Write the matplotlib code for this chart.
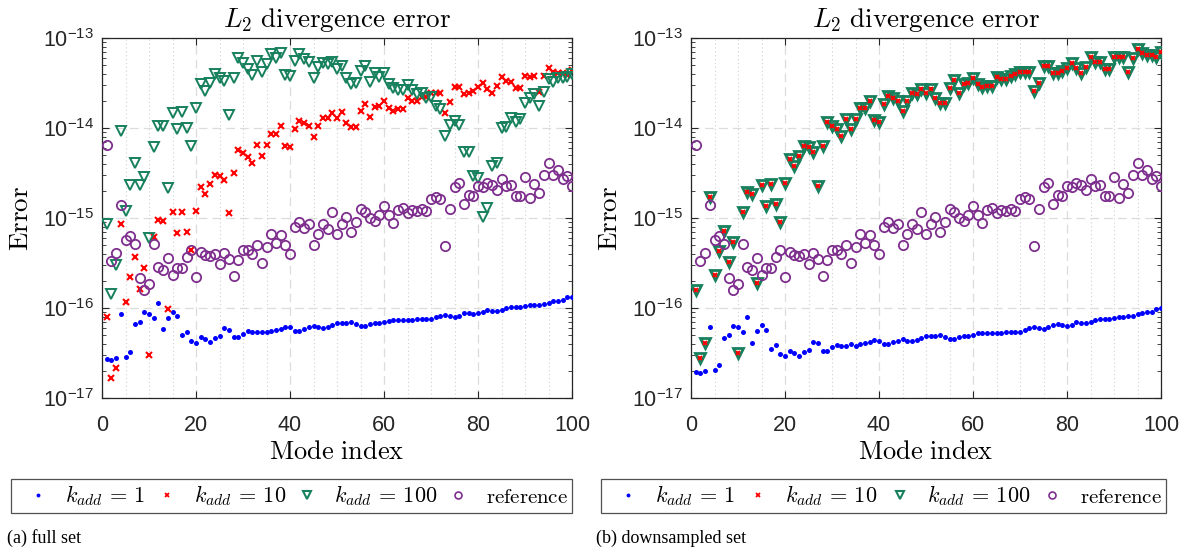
import numpy as np
import matplotlib
matplotlib.use('Agg')
import matplotlib.pyplot as plt
from matplotlib.lines import Line2D
from matplotlib.ticker import FuncFormatter, FixedLocator, MultipleLocator, NullFormatter

plt.rcParams['font.family'] = ['Liberation Sans', 'DejaVu Sans']
plt.rcParams['mathtext.fontset'] = 'cm'

# ---------------- data ----------------
modes = np.arange(1, 101)
x_ticks = [0, 20, 40, 60, 80, 100]
y_ticks = [1e-17, 1e-16, 1e-15, 1e-14, 1e-13]

blue_full = [2.71e-17, 2.64e-17, 2.81e-17, 8.57e-17, 2.88e-17, 3.27e-17, 6.64e-17, 6.98e-17, 8.95e-17, 8.65e-17,
             7.67e-17, 1.13e-16, 5.85e-17, 7.82e-17, 9.1e-17, 8.15e-17, 5.0e-17, 5.46e-17, 4.30e-17, 4.12e-17,
             4.72e-17, 4.49e-17, 4.16e-17, 4.60e-17, 4.84e-17, 6.0e-17, 5.7e-17, 4.72e-17, 4.72e-17, 5.14e-17,
             5.51e-17, 5.37e-17, 5.37e-17, 5.46e-17, 5.4e-17, 5.6e-17, 5.74e-17, 5.89e-17, 6.21e-17, 6.1e-17,
             5.6e-17, 5.6e-17, 5.79e-17, 6.1e-17, 6.37e-17, 6.1e-17, 6.04e-17, 6.21e-17, 6.53e-17, 6.76e-17,
             6.76e-17, 6.81e-17, 6.98e-17, 6.64e-17, 6.31e-17, 6.37e-17, 6.64e-17, 6.76e-17, 6.76e-17, 6.98e-17,
             7.23e-17, 7.36e-17, 7.41e-17, 7.41e-17, 7.29e-17, 7.29e-17, 7.48e-17, 7.6e-17, 7.55e-17, 7.6e-17,
             7.87e-17, 8.22e-17, 8.36e-17, 8.15e-17, 7.87e-17, 8.15e-17, 8.73e-17, 8.79e-17, 8.65e-17, 8.73e-17,
             9.04e-17, 9.42e-17, 9.27e-17, 9.18e-17, 9.51e-17, 1.0e-16, 1.016e-16, 1.016e-16, 1.026e-16, 1.05e-16,
             1.08e-16, 1.09e-16, 1.08e-16, 1.12e-16, 1.15e-16, 1.2e-16, 1.2e-16, 1.23e-16, 1.32e-16, 1.34e-16]

red_full = [8.02e-17, 1.66e-17, 2.14e-17, 8.51e-16, 1.17e-16, 2.19e-16, 3.66e-16, 1.63e-16, 2.76e-16, 2.98e-17,
            6.1e-16, 9.5e-16, 9.33e-16, 9.75e-17, 1.16e-15, 6.76e-16, 1.17e-15, 6.93e-16, 4.41e-16, 1.2e-15,
            2.19e-15, 1.83e-15, 2.39e-15, 3.03e-15, 2.95e-15, 2.62e-15, 1.13e-15, 3.13e-15, 5.7e-15, 5.24e-15,
            4.76e-15, 4.08e-15, 6.47e-15, 4.89e-15, 6.41e-15, 8.57e-15, 8.51e-15, 1.045e-14, 6.25e-15, 6.15e-15,
            9.75e-15, 1.2e-14, 1.15e-14, 1.06e-14, 8.02e-15, 1.05e-14, 1.28e-14, 1.28e-14, 1.48e-14, 1.28e-14,
            1.49e-14, 1.15e-14, 1.02e-14, 1.035e-14, 1.53e-14, 1.86e-14, 1.32e-14, 1.7e-14, 1.74e-14, 1.98e-14,
            1.66e-14, 1.56e-14, 1.63e-14, 1.64e-14, 2.14e-14, 2.0e-14, 2.0e-14, 2.19e-14, 2.23e-14, 2.43e-14,
            2.43e-14, 2.43e-14, 1.48e-14, 1.96e-14, 2.88e-14, 2.83e-14, 2.37e-14, 2.43e-14, 2.58e-14, 2.83e-14,
            3.13e-14, 2.69e-14, 2.43e-14, 2.95e-14, 3.72e-14, 3.36e-14, 3.27e-14, 2.76e-14, 2.76e-14, 3.81e-14,
            3.72e-14, 3.81e-14, 2.54e-14, 3.81e-14, 4.6e-14, 4.23e-14, 4.05e-14, 4.05e-14, 3.88e-14, 4.41e-14]

green_full = [8.57e-16, 1.42e-16, 3.01e-16, 9.27e-15, 1.19e-15, 2.31e-15, 4.12e-15, 2.33e-15, 2.88e-15, 5.94e-16,
              6.21e-15, 1.05e-14, 1.05e-14, 2.15e-15, 1.46e-14, 9.66e-15, 1.51e-14, 9.9e-15, 6.37e-15, 1.66e-14,
              3.05e-14, 2.58e-14, 3.13e-14, 3.94e-14, 3.62e-14, 3.33e-14, 1.39e-14, 3.56e-14, 6.0e-14, 5.24e-14,
              4.53e-14, 3.88e-14, 5.6e-14, 4.23e-14, 5.09e-14, 6.59e-14, 5.94e-14, 6.87e-14, 3.85e-14, 3.78e-14,
              5.6e-14, 6.59e-14, 5.85e-14, 5.37e-14, 3.62e-14, 4.72e-14, 5.27e-14, 5.19e-14, 5.46e-14, 4.53e-14,
              4.93e-14, 3.62e-14, 3.08e-14, 3.19e-14, 4.3e-14, 4.93e-14, 3.22e-14, 4.05e-14, 3.72e-14, 4.12e-14,
              3.08e-14, 2.76e-14, 2.64e-14, 2.64e-14, 3.01e-14, 2.64e-14, 2.39e-14, 2.43e-14, 2.17e-14, 2.19e-14,
              1.75e-14, 1.61e-14, 8.15e-15, 1.08e-14, 1.2e-14, 1.08e-14, 5.46e-15, 5.46e-15, 2.95e-15, 2.81e-15,
              1.035e-15, 1.3e-15, 3.78e-15, 4.05e-15, 9.9e-15, 1.035e-14, 1.28e-14, 1.17e-14, 1.25e-14, 1.88e-14,
              2.17e-14, 2.37e-14, 1.75e-14, 2.54e-14, 3.5e-14, 3.27e-14, 3.62e-14, 3.56e-14, 3.72e-14, 3.98e-14]

reference = [6.41e-15, 3.36e-16, 4.12e-16, 1.39e-15, 5.7e-16, 6.37e-16, 5.09e-16, 2.15e-16, 1.58e-16, 1.86e-16,
             5.19e-16, 2.86e-16, 2.64e-16, 3.56e-16, 2.33e-16, 2.81e-16, 2.81e-16, 3.69e-16, 4.38e-16, 2.19e-16,
             4.16e-16, 3.92e-16, 3.81e-16, 3.98e-16, 3.05e-16, 4.08e-16, 3.47e-16, 2.25e-16, 3.41e-16, 4.41e-16,
             4.41e-16, 3.94e-16, 5.01e-16, 3.19e-16, 4.72e-16, 6.59e-16, 5.32e-16, 6.53e-16, 4.97e-16, 3.94e-16,
             8.02e-16, 8.95e-16, 7.74e-16, 8.57e-16, 5.01e-16, 6.64e-16, 8.51e-16, 7.55e-16, 1.17e-15, 6.7e-16,
             8.57e-16, 1.016e-15, 6.93e-16, 9.1e-16, 1.25e-15, 1.17e-15, 9.9e-16, 9.18e-16, 1.07e-15, 1.37e-15,
             1.07e-15, 8.87e-16, 1.23e-15, 1.3e-15, 1.15e-15, 1.22e-15, 1.19e-15, 1.27e-15, 1.2e-15, 1.61e-15,
             1.7e-15, 1.61e-15, 4.89e-16, 1.27e-15, 2.19e-15, 2.43e-15, 1.43e-15, 1.82e-15, 1.77e-15, 2.29e-15,
             2.21e-15, 2.43e-15, 2.33e-15, 2.05e-15, 2.69e-15, 2.29e-15, 2.33e-15, 1.75e-15, 1.75e-15, 2.86e-15,
             1.66e-15, 2.4e-15, 1.91e-15, 2.98e-15, 4.05e-15, 2.98e-15, 3.41e-15, 2.71e-15, 2.95e-15, 2.29e-15]

blue_down = [1.93e-17, 1.88e-17, 2.0e-17, 6.1e-17, 2.03e-17, 2.31e-17, 4.68e-17, 4.97e-17, 6.37e-17, 6.15e-17,
             5.41e-17, 8.02e-17, 4.12e-17, 5.51e-17, 6.47e-17, 5.74e-17, 3.53e-17, 3.85e-17, 3.05e-17, 2.9e-17,
             3.33e-17, 3.16e-17, 2.95e-17, 3.27e-17, 3.44e-17, 4.23e-17, 4.05e-17, 3.36e-17, 3.36e-17, 3.66e-17,
             3.88e-17, 3.78e-17, 3.78e-17, 3.94e-17, 3.81e-17, 3.98e-17, 4.08e-17, 4.23e-17, 4.41e-17, 4.34e-17,
             4.02e-17, 4.02e-17, 4.16e-17, 4.34e-17, 4.53e-17, 4.34e-17, 4.3e-17, 4.41e-17, 4.65e-17, 4.84e-17,
             4.84e-17, 4.89e-17, 5.01e-17, 4.8e-17, 4.53e-17, 4.56e-17, 4.8e-17, 4.84e-17, 4.89e-17, 5.01e-17,
             5.24e-17, 5.32e-17, 5.32e-17, 5.32e-17, 5.24e-17, 5.24e-17, 5.37e-17, 5.41e-17, 5.46e-17, 5.46e-17,
             5.65e-17, 6.04e-17, 6.21e-17, 5.94e-17, 5.79e-17, 6.1e-17, 6.41e-17, 6.59e-17, 6.47e-17, 6.37e-17,
             6.53e-17, 6.93e-17, 6.87e-17, 6.76e-17, 7.05e-17, 7.41e-17, 7.55e-17, 7.55e-17, 7.55e-17, 7.74e-17,
             8.02e-17, 8.02e-17, 8.07e-17, 8.22e-17, 8.51e-17, 8.87e-17, 9.04e-17, 9.1e-17, 9.84e-17, 1.0e-16]

green_down = [1.58e-16, 2.76e-17, 4.05e-17, 1.70e-15, 2.33e-16, 4.34e-16, 7.18e-16, 3.27e-16, 5.46e-16, 3.13e-17,
              1.17e-15, 1.93e-15, 1.85e-15, 1.88e-16, 2.33e-15, 1.36e-15, 2.37e-15, 1.43e-15, 9.1e-16, 2.43e-15,
              4.53e-15, 3.81e-15, 4.93e-15, 6.31e-15, 6.1e-15, 5.46e-15, 2.29e-15, 6.31e-15, 1.16e-14, 1.05e-14,
              9.66e-15, 8.15e-15, 1.27e-14, 9.84e-15, 1.25e-14, 1.68e-14, 1.66e-14, 2.01e-14, 1.23e-14, 1.17e-14,
              1.85e-14, 2.27e-14, 2.14e-14, 2.01e-14, 1.55e-14, 1.98e-14, 2.43e-14, 2.37e-14, 2.74e-14, 2.43e-14,
              2.74e-14, 2.14e-14, 1.91e-14, 1.88e-14, 2.76e-14, 3.41e-14, 2.43e-14, 3.08e-14, 3.13e-14, 3.56e-14,
              3.08e-14, 2.88e-14, 2.93e-14, 2.93e-14, 3.72e-14, 3.53e-14, 3.47e-14, 3.75e-14, 3.98e-14, 4.16e-14,
              4.23e-14, 4.23e-14, 2.6e-14, 3.19e-14, 4.93e-14, 4.89e-14, 4.05e-14, 4.05e-14, 4.34e-14, 4.6e-14,
              5.24e-14, 4.6e-14, 4.05e-14, 4.8e-14, 6.1e-14, 5.46e-14, 5.46e-14, 4.49e-14, 4.49e-14, 6.1e-14,
              6.1e-14, 6.21e-14, 4.23e-14, 5.94e-14, 7.48e-14, 6.76e-14, 6.47e-14, 6.47e-14, 6.1e-14, 7.05e-14]

# in the downsampled set the k_add = 10 points coincide with the k_add = 100 points
red_down = list(green_down)

labels = [r'$k_{add}\,=\,1$', r'$k_{add}\,=\,10$', r'$k_{add}\,=\,100$', r'$\mathrm{reference}$']
title = r'$L_2\ \mathrm{divergence\ error}$'
captions = ['(a) full set', '(b) downsampled set']

# ---------------- style ----------------
C_BLUE = '#0000ff'
C_RED = '#ff0000'
C_GREEN = '#17805c'
C_PURPLE = '#7e2f8e'
AX_COL = '#262626'

W, H = 1186, 553
fig = plt.figure(figsize=(W / 100, H / 100), dpi=100)


def fx(px):
    return px / W


def fy(py):
    return 1 - py / H


ax_boxes = [(102, 38, 572, 398), (691, 38, 1161, 398)]
leg_boxes = [(11, 481, 572, 511), (601, 481, 1166, 511)]
cap_pos = [(7, 538), (596, 538)]
panels = [(blue_full, red_full, green_full, reference),
          (blue_down, red_down, green_down, reference)]

for i, (box, data) in enumerate(zip(ax_boxes, panels)):
    x0, y0, x1, y1 = box
    ax = fig.add_axes([fx(x0), fy(y1), fx(x1) - fx(x0), fy(y0) - fy(y1)])
    b, r, g, p = data
    ax.plot(modes, b, linestyle='none', marker='o', markersize=3.6, color=C_BLUE,
            markeredgewidth=0, zorder=3)
    if i == 0:
        ax.plot(modes, r, linestyle='none', marker='x', markersize=4.2, color=C_RED,
                markeredgewidth=1.5, zorder=3)
        ax.plot(modes, g, linestyle='none', marker='v', markersize=7.2, markerfacecolor='none',
                markeredgecolor=C_GREEN, markeredgewidth=1.4, zorder=3)
    else:
        ax.plot(modes, g, linestyle='none', marker='v', markersize=7.2, markerfacecolor='none',
                markeredgecolor=C_GREEN, markeredgewidth=2.0, zorder=3)
        ax.plot(modes, r, linestyle='none', marker='x', markersize=2.8, color=C_RED,
                markeredgewidth=1.4, zorder=4)
    ax.plot(modes, p, linestyle='none', marker='o', markersize=6.7, markerfacecolor='none',
            markeredgecolor=C_PURPLE, markeredgewidth=1.3, zorder=3)

    ax.set_yscale('log')
    ax.set_xlim(0, 100)
    ax.set_ylim(1e-17, 1e-13)
    ax.xaxis.set_major_locator(FixedLocator(x_ticks))
    ax.xaxis.set_minor_locator(MultipleLocator(5))
    ax.yaxis.set_major_locator(FixedLocator(y_ticks))
    minor_y = [m * t for t in y_ticks[:-1] for m in range(2, 10)]
    ax.yaxis.set_minor_locator(FixedLocator(minor_y))
    ax.yaxis.set_major_formatter(FuncFormatter(
        lambda v, pos: r'$\mathregular{10^{%d}}$' % int(round(np.log10(v)))))
    ax.yaxis.set_minor_formatter(NullFormatter())
    ax.grid(which='major', linestyle=(0, (7, 4)), color='#dcdcdc', linewidth=0.9)
    ax.grid(which='minor', axis='x', linestyle=(0, (1, 2.5)), color='#d0d0d0', linewidth=0.8)
    ax.grid(which='minor', axis='y', visible=False)
    ax.set_axisbelow(True)
    ax.tick_params(which='both', direction='in', top=True, right=True, colors=AX_COL,
                   labelsize=15.5, labelcolor=AX_COL)
    ax.tick_params(which='major', length=5, width=0.8)
    ax.tick_params(which='minor', length=3, width=0.6)
    ax.tick_params(axis='x', which='minor', length=0)
    ax.tick_params(axis='x', which='major', pad=12)
    ax.tick_params(axis='y', which='major', pad=6)
    for s in ax.spines.values():
        s.set_color(AX_COL)
        s.set_linewidth(0.9)
    ax.set_xlabel(r'$\mathrm{Mode\ index}$', fontsize=19, labelpad=3)
    ax.set_ylabel(r'$\mathrm{Error}$', fontsize=19.5, labelpad=6)
    ax.set_title(title, fontsize=19.5, pad=8)

    # legend
    handles = [
        Line2D([], [], linestyle='none', marker='o', markersize=2.8, color=C_BLUE, markeredgewidth=0),
        Line2D([], [], linestyle='none', marker='x', markersize=3.5, color=C_RED, markeredgewidth=1.3),
        Line2D([], [], linestyle='none', marker='v', markersize=6, markerfacecolor='none',
               markeredgecolor=C_GREEN, markeredgewidth=1.5),
        Line2D([], [], linestyle='none', marker='o', markersize=5, markerfacecolor='none',
               markeredgecolor=C_PURPLE, markeredgewidth=1.2),
    ]
    lx0, ly0, lx1, ly1 = leg_boxes[i]
    leg = fig.legend(handles, labels, loc='center',
                     bbox_to_anchor=(fx(lx0), fy(ly1), fx(lx1) - fx(lx0), fy(ly0) - fy(ly1)),
                     bbox_transform=fig.transFigure, mode='expand', ncol=4, fontsize=16,
                     frameon=True, fancybox=False, borderaxespad=0, handlelength=2.04,
                     handletextpad=0.2, borderpad=0.2, columnspacing=0.8)
    leg.get_texts()[3].set_fontsize(15)
    leg.get_frame().set_edgecolor(AX_COL)
    leg.get_frame().set_linewidth(0.9)

    cx, cy = cap_pos[i]
    fig.text(fx(cx), fy(cy), captions[i], family='Liberation Serif', fontsize=13,
             va='center', ha='left')

fig.savefig('out.png', dpi=100)
